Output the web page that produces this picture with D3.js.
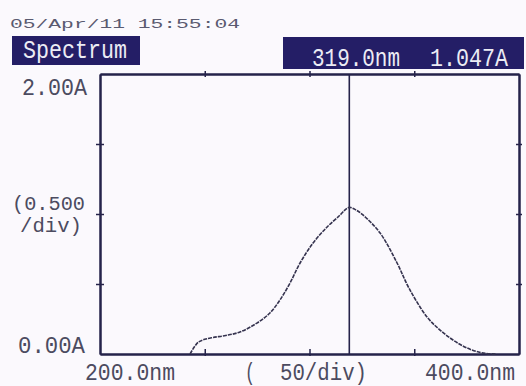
<!DOCTYPE html>
<html><head><meta charset="utf-8">
<script src="https://cdn.jsdelivr.net/npm/d3@7"></script>
<style>html,body{margin:0;padding:0;background:#fbf9fd;}svg{display:block;}</style>
</head><body>
<script>
const wavelengths = [243, 245, 247, 250, 254, 260, 266.8, 274.9, 281.1, 285.9, 290.7, 295.5, 301.7, 308.4, 314.6, 317, 319, 321.5, 325.5, 333.7, 341.8, 347.5, 356.1, 362.3, 368.5, 375.2, 382.3, 389];
const absorbance  = [0,   0.05, 0.085, 0.105, 0.118, 0.132, 0.157, 0.221, 0.293, 0.386, 0.507, 0.65,  0.793, 0.907, 0.993, 1.030, 1.047, 1.035, 0.993, 0.864, 0.65,  0.47,  0.264, 0.171, 0.100, 0.043, 0.008, 0];
const xTicks = [250, 300, 350];
const yTicks = [0.5, 1.0, 1.5];
const cursorNm = 319.0, cursorA = 1.047;
const dateText = "05/Apr/11 15:55:04";
const titleText = "Spectrum";

const W = 526, H = 386;
const svg = d3.select("body").append("svg").attr("width", W).attr("height", H);
svg.append("rect").attr("width", W).attr("height", H).attr("fill", "#fbf9fd");

const x = d3.scaleLinear().domain([200, 400]).range([100, 519]);
const y = d3.scaleLinear().domain([0, 2]).range([354, 74]);

const ink = "#25234a", txt = "#4c4b60", navy = "#241e66";
const mono = "'Liberation Mono','DejaVu Sans Mono',monospace";

// header
svg.append("text").attr("x", 10).attr("y", 28).attr("font-family", mono).attr("font-size", 13)
  .attr("fill", "#5a5a70").attr("textLength", 230).attr("lengthAdjust", "spacingAndGlyphs").text(dateText);
svg.append("rect").attr("x", 12).attr("y", 36).attr("width", 128).attr("height", 29).attr("fill", navy);
svg.append("text").attr("x", 23).attr("y", 58).attr("font-family", mono).attr("font-size", 26)
  .attr("fill", "#ececf4").attr("textLength", 104).attr("lengthAdjust", "spacingAndGlyphs").text(titleText);
svg.append("rect").attr("x", 283).attr("y", 37).attr("width", 241).attr("height", 32).attr("fill", navy);
svg.append("text").attr("x", 312).attr("y", 66).attr("font-family", mono).attr("font-size", 26)
  .attr("fill", "#ececf4").attr("textLength", 88).attr("lengthAdjust", "spacingAndGlyphs").text(cursorNm.toFixed(1) + "nm");
svg.append("text").attr("x", 430).attr("y", 66).attr("font-family", mono).attr("font-size", 26)
  .attr("fill", "#ececf4").attr("textLength", 78).attr("lengthAdjust", "spacingAndGlyphs").text(cursorA.toFixed(3) + "A");

// axes / frame
function axisG(axis, tx, ty) {
  const g = svg.append("g").attr("transform", `translate(${tx},${ty})`).call(axis);
  g.selectAll("path.domain").attr("stroke", ink).attr("stroke-width", 2);
  g.selectAll(".tick line").attr("stroke", ink).attr("stroke-width", 1.5);
  g.selectAll(".tick text").remove();
  return g;
}
axisG(d3.axisLeft(y).tickValues(yTicks).tickSizeInner(4).tickSizeOuter(0), 100, 0);
axisG(d3.axisLeft(y).tickValues(yTicks).tickSizeInner(-4).tickSizeOuter(0), 100, 0);
axisG(d3.axisRight(y).tickValues(yTicks).tickSizeInner(3).tickSizeOuter(0), 519, 0);
axisG(d3.axisRight(y).tickValues(yTicks).tickSizeInner(-3).tickSizeOuter(0), 519, 0);
axisG(d3.axisBottom(x).tickValues(xTicks).tickSizeInner(-5).tickSizeOuter(0), 0, 354);
axisG(d3.axisBottom(x).tickValues(xTicks).tickSizeInner(2).tickSizeOuter(0), 0, 354);
axisG(d3.axisTop(x).tickValues(xTicks).tickSizeInner(3).tickSizeOuter(0), 0, 74);
axisG(d3.axisTop(x).tickValues(xTicks).tickSizeInner(-3).tickSizeOuter(0), 0, 74);

// cursor line
svg.append("line").attr("x1", x(cursorNm)).attr("x2", x(cursorNm)).attr("y1", y(2)).attr("y2", y(0))
  .attr("stroke", ink).attr("stroke-width", 1.6);

// spectrum curve
const pts = wavelengths.map((w, i) => [w, absorbance[i]]);
svg.append("path").datum(pts)
  .attr("d", d3.line().x(d => x(d[0])).y(d => y(d[1])).curve(d3.curveCatmullRom.alpha(0.5)))
  .attr("fill", "none").attr("stroke", "#35334f").attr("stroke-width", 1.6)
  .attr("stroke-dasharray", "4,1");

// axis labels
function label(t, lx, ly, len, fs) {
  svg.append("text").attr("x", lx).attr("y", ly).attr("font-family", mono).attr("font-size", fs || 24)
    .attr("fill", txt).attr("textLength", len).attr("lengthAdjust", "spacingAndGlyphs").text(t);
}
label("2.00A", 22, 95, 65);
label("(0.500", 12, 210, 73, 21);
label("/div)", 20, 232, 62, 21);
label("0.00A", 18, 353, 67);
label("200.0nm", 85, 380, 90);
label("(", 245, 380, 10);
label("50/div)", 280, 380, 87);
label("400.0nm", 425, 380, 90);
</script>
</body></html>
